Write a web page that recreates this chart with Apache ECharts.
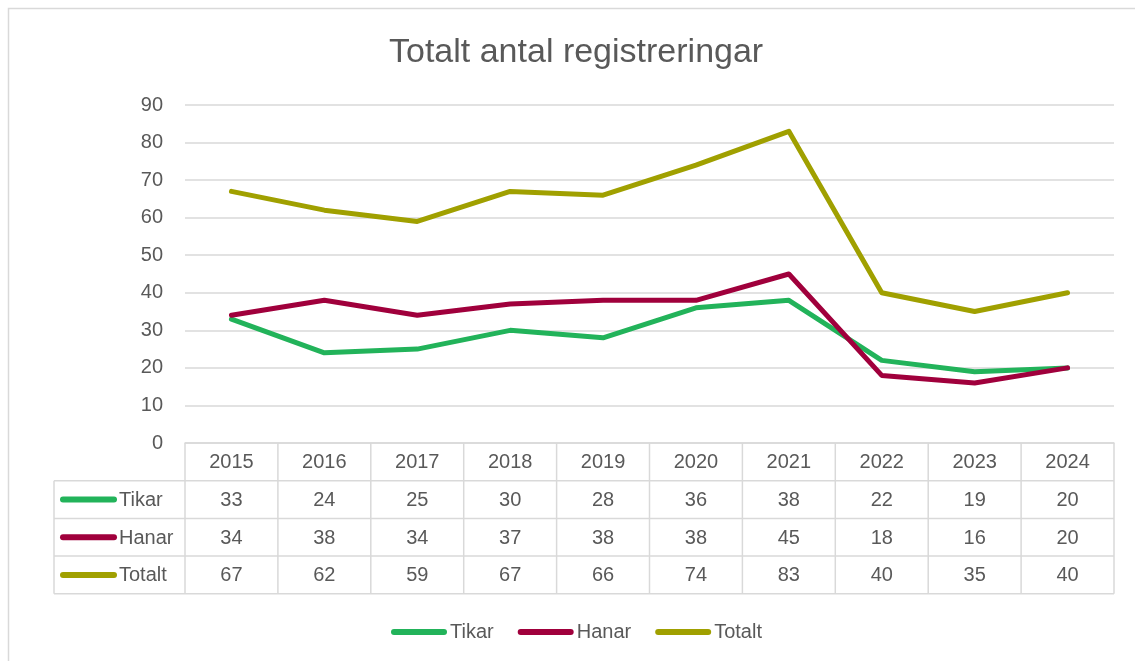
<!DOCTYPE html>
<html>
<head>
<meta charset="utf-8">
<script src="https://cdn.jsdelivr.net/npm/echarts@6/dist/echarts.min.js"></script>
<style>
html, body { margin: 0; padding: 0; background: #fff; }
#main { width: 1135px; height: 661px; }
</style>
</head>
<body>
<div id="main"></div>
<script>
// data
var years = ['2015', '2016', '2017', '2018', '2019', '2020', '2021', '2022', '2023', '2024'];
var tikar = [33, 24, 25, 30, 28, 36, 38, 22, 19, 20];
var hanar = [34, 38, 34, 37, 38, 38, 45, 18, 16, 20];
var totalt = [67, 62, 59, 67, 66, 74, 83, 40, 35, 40];
var seriesNames = ['Tikar', 'Hanar', 'Totalt'];
var yMax = 90;
var yStep = 10;

var colors = ['#22b35a', '#a0003c', '#a0a000'];
var textColor = '#595959';
var gridColor = '#d9d9d9';
var font = '"Liberation Sans", Arial, sans-serif';
var pill = 'path://M3,0 H53 A3,3 0 0 1 53,6 H3 A3,3 0 0 1 3,0 Z';
var fs = 20;

var myChart = echarts.init(document.getElementById('main'));

var allData = [tikar, hanar, totalt];

var option = {
    animation: false,
    color: colors,
    title: {
        text: 'Totalt antal registreringar',
        left: 384,
        top: 31,
        textStyle: {
            fontFamily: font,
            fontSize: 34,
            fontWeight: 'normal',
            color: textColor
        }
    },
    legend: {
        left: 386,
        top: 615,
        itemWidth: 56,
        itemHeight: 6,
        itemGap: 24,
        icon: pill,
        textStyle: {
            fontFamily: font,
            fontSize: fs,
            color: textColor,
            lineHeight: 24,
            padding: [0, 0, 0, -2]
        },
        data: seriesNames
    },
    grid: {
        left: 185,
        right: 21,
        top: 105,
        bottom: 218,
        containLabel: false
    },
    xAxis: {
        type: 'category',
        boundaryGap: true,
        data: years,
        axisLine: { show: true, lineStyle: { color: gridColor, width: 1.5 } },
        axisTick: { show: false },
        axisLabel: { show: false }
    },
    yAxis: {
        type: 'value',
        min: 0,
        max: yMax,
        interval: yStep,
        axisLine: { show: false },
        axisTick: { show: false },
        axisLabel: {
            margin: 22,
            fontFamily: font,
            fontSize: fs,
            color: textColor
        },
        splitLine: { lineStyle: { color: gridColor, width: 1.5 } }
    },
    series: seriesNames.map(function (name, i) {
        return {
            name: name,
            type: 'line',
            data: allData[i],
            showSymbol: false,
            symbol: 'none',
            lineStyle: { width: 5, color: colors[i], cap: 'round', join: 'round' },
            itemStyle: { color: colors[i] }
        };
    })
};

myChart.setOption(option);

// data table under the plot
function buildTable() {
    var g = [];
    var x0 = myChart.convertToPixel({ xAxisIndex: 0 }, 0);
    var x1 = myChart.convertToPixel({ xAxisIndex: 0 }, 1);
    var band = x1 - x0;
    var left = x0 - band / 2;
    var right = left + band * years.length;
    var top = myChart.convertToPixel({ yAxisIndex: 0 }, 0);
    var rowH = 37.7;
    var labelLeft = 54;
    var lineStyle = { stroke: gridColor, lineWidth: 1.5 };
    var cellFont = fs + 'px ' + font;

    // outer chart border
    g.push({ type: 'rect', shape: { x: 8.5, y: 8.5, width: 1140, height: 660 },
        style: { fill: 'none', stroke: gridColor, lineWidth: 1.5 }, silent: true });

    // horizontal lines
    for (var r = 1; r <= 4; r++) {
        var y = top + r * rowH;
        g.push({ type: 'line', shape: { x1: labelLeft, y1: y, x2: right, y2: y }, style: lineStyle, silent: true });
    }
    // vertical lines
    for (var c = 0; c <= years.length; c++) {
        var x = left + c * band;
        g.push({ type: 'line', shape: { x1: x, y1: top, x2: x, y2: top + 4 * rowH }, style: lineStyle, silent: true });
    }
    g.push({ type: 'line', shape: { x1: labelLeft, y1: top + rowH, x2: labelLeft, y2: top + 4 * rowH }, style: lineStyle, silent: true });

    // header years
    years.forEach(function (yr, i) {
        g.push({ type: 'text', x: myChart.convertToPixel({ xAxisIndex: 0 }, i), y: top + rowH / 2 + 1,
            style: { text: yr, align: 'center', verticalAlign: 'middle', font: cellFont, fill: textColor }, silent: true });
    });

    // rows
    seriesNames.forEach(function (name, r) {
        var cy = top + (r + 1.5) * rowH;
        g.push({ type: 'rect', shape: { x: 60, y: cy - 3, width: 57, height: 6, r: 3 },
            style: { fill: colors[r] }, silent: true });
        g.push({ type: 'text', x: 119, y: cy + 1,
            style: { text: name, align: 'left', verticalAlign: 'middle', font: cellFont, fill: textColor }, silent: true });
        allData[r].forEach(function (v, i) {
            g.push({ type: 'text', x: myChart.convertToPixel({ xAxisIndex: 0 }, i), y: cy + 1,
                style: { text: String(v), align: 'center', verticalAlign: 'middle', font: cellFont, fill: textColor }, silent: true });
        });
    });

    myChart.setOption({ graphic: { elements: g } });
}

buildTable();
</script>
</body>
</html>
